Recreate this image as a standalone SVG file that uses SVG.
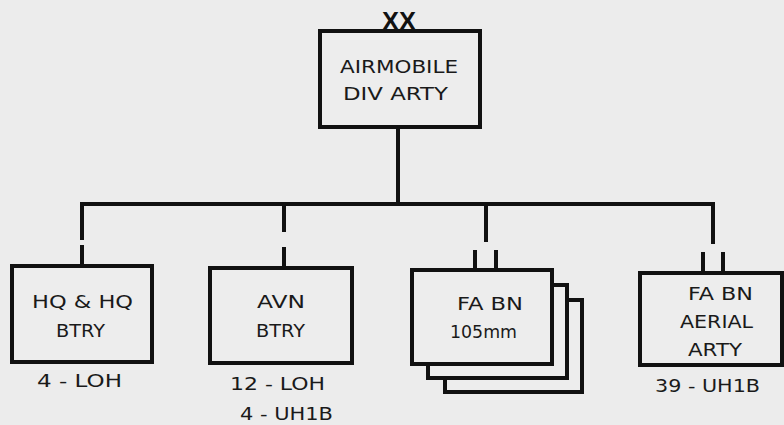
<svg xmlns="http://www.w3.org/2000/svg" width="784" height="425" viewBox="0 0 784 425">
<style>
.bx{fill:#ededed;stroke:#111;stroke-width:4;stroke-linejoin:miter}
.ln{fill:none;stroke:#111;stroke-width:4;stroke-linecap:butt}
text{font-family:"DejaVu Sans","Liberation Sans",sans-serif;font-size:18px;fill:#1a1a1a}
.xx{font-family:"Liberation Sans",sans-serif;font-weight:bold;font-size:25px;fill:#111}
</style>
<rect width="784" height="425" fill="#ececec"/>
<g id="connectors">
<path class="ln" d="M398,127 V205"/>
<path class="ln" d="M82,240 V204 H713 V244"/>
<path class="ln" d="M82,245 V266 M284,205 V232 M284,247 V268 M486,205 V242 M475,250 V270 M496,250 V270 M703,252 V273 M723,252 V273"/>
</g>
<g id="div-arty">
<rect class="bx" x="320" y="31" width="160" height="96"/>
<text class="xx" x="399" y="30" text-anchor="middle" textLength="34" lengthAdjust="spacingAndGlyphs">XX</text>
<text x="340" y="73" textLength="118" lengthAdjust="spacingAndGlyphs">AIRMOBILE</text>
<text x="343" y="100" textLength="105" lengthAdjust="spacingAndGlyphs">DIV ARTY</text>
</g>
<g id="hq-btry">
<rect class="bx" x="12" y="266" width="140" height="96"/>
<text x="32" y="308" textLength="101" lengthAdjust="spacingAndGlyphs">HQ &amp; HQ</text>
<text x="56" y="337" textLength="49" lengthAdjust="spacingAndGlyphs">BTRY</text>
<text x="37" y="387" textLength="85" lengthAdjust="spacingAndGlyphs">4 - LOH</text>
</g>
<g id="avn-btry">
<rect class="bx" x="210" y="268" width="142" height="95"/>
<text x="257" y="308" textLength="48" lengthAdjust="spacingAndGlyphs">AVN</text>
<text x="256" y="337" textLength="49" lengthAdjust="spacingAndGlyphs">BTRY</text>
<text x="230" y="390" textLength="95" lengthAdjust="spacingAndGlyphs">12 - LOH</text>
<text x="240" y="420" textLength="93" lengthAdjust="spacingAndGlyphs">4 - UH1B</text>
</g>
<g id="fa-bn-105">
<rect class="bx" x="445" y="300" width="137" height="92"/>
<rect class="bx" x="428" y="285" width="139" height="93"/>
<rect class="bx" x="412" y="270" width="140" height="94"/>
<text x="457" y="310" textLength="66" lengthAdjust="spacingAndGlyphs">FA BN</text>
<text x="450" y="338" textLength="67" lengthAdjust="spacingAndGlyphs">105mm</text>
</g>
<g id="fa-bn-aerial">
<rect class="bx" x="640" y="273" width="142" height="92"/>
<text x="688" y="300" textLength="65" lengthAdjust="spacingAndGlyphs">FA BN</text>
<text x="680" y="328" textLength="73" lengthAdjust="spacingAndGlyphs">AERIAL</text>
<text x="688" y="356" textLength="54" lengthAdjust="spacingAndGlyphs">ARTY</text>
<text x="655" y="392" textLength="105" lengthAdjust="spacingAndGlyphs">39 - UH1B</text>
</g>
</svg>
